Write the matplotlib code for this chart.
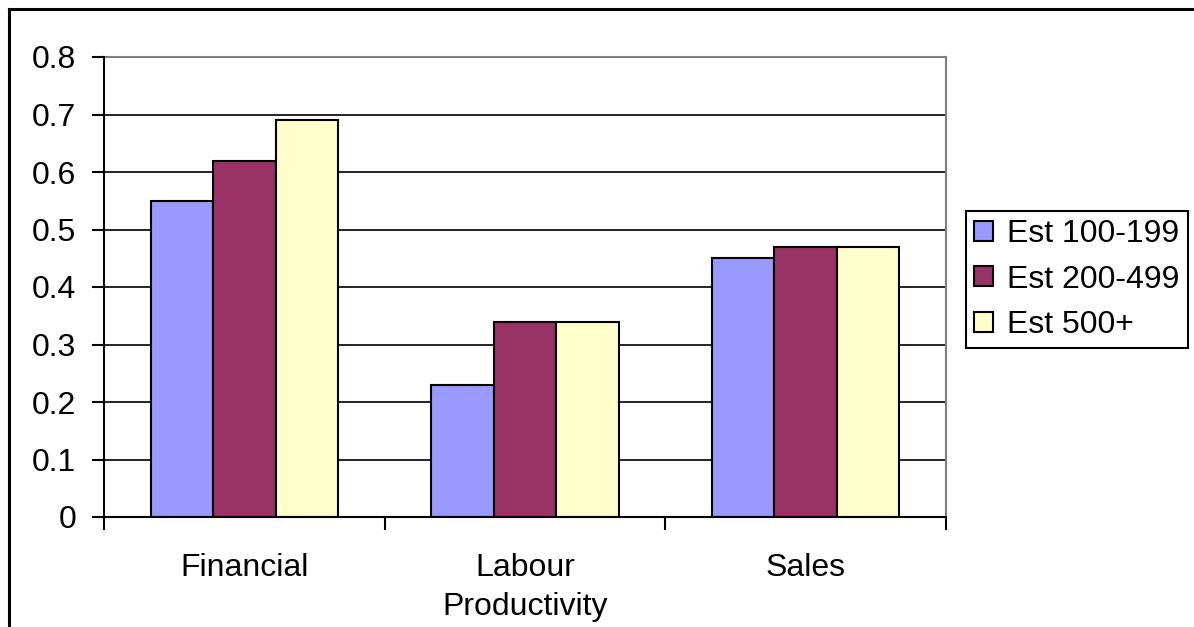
import matplotlib
matplotlib.use("Agg")
import matplotlib.pyplot as plt
from matplotlib.lines import Line2D
import numpy as np

categories = ["Financial", "Labour\nProductivity", "Sales"]
series_names = ["Est 100-199", "Est 200-499", "Est 500+"]
est_100_199 = [0.55, 0.23, 0.45]
est_200_499 = [0.62, 0.34, 0.47]
est_500_plus = [0.69, 0.34, 0.47]
y_ticks = [0, 0.1, 0.2, 0.3, 0.4, 0.5, 0.6, 0.7, 0.8]
colors = ["#9999FF", "#993366", "#FFFFCC"]

plt.rcParams["font.family"] = ["Liberation Sans", "DejaVu Sans"]
FS = 23

W, H = 1194, 627
fig = plt.figure(figsize=(W / 100, H / 100), dpi=100)

# axes placement in pixel coordinates
left, right, top, bottom = 104, 946, 57, 517
ax = fig.add_axes([left / W, 1 - bottom / H, (right - left) / W, (bottom - top) / H])

x = np.arange(len(categories))
bw = 1 / 4.5
for i, (vals, name, c) in enumerate(zip([est_100_199, est_200_499, est_500_plus], series_names, colors)):
    ax.bar(x + (i - 1) * bw, vals, width=bw, color=c, edgecolor="black", linewidth=1.5,
           label=name, zorder=3)

ax.set_xlim(-0.5, len(categories) - 0.5)
ax.set_ylim(0, 0.8)
ax.set_yticks(y_ticks)
ax.set_yticklabels([f"{v:g}" for v in y_ticks], fontsize=FS)
for v in y_ticks[1:-1]:
    ax.axhline(v, color="black", linewidth=1.2, zorder=1)

# category boundary ticks and centered labels
ax.set_xticks(np.arange(-0.5, len(categories), 1.0))
ax.set_xticklabels([])
ax.set_xticks(x, minor=True)
ax.set_xticklabels(categories, minor=True, fontsize=FS, linespacing=1.4)
ax.tick_params(axis="x", which="minor", length=0, pad=26)
ax.tick_params(axis="x", which="major", length=9, width=1.5, direction="out")
ax.tick_params(axis="y", length=9, width=1.5, direction="out", pad=11)

for s in ["top", "right"]:
    ax.spines[s].set_color("#808080")
    ax.spines[s].set_linewidth(1.5)
for s in ["left", "bottom"]:
    ax.spines[s].set_color("black")
    ax.spines[s].set_linewidth(1.5)
    ax.spines[s].set_zorder(4)

leg = ax.legend(loc="upper left", bbox_to_anchor=((966 - left) / (right - left), 1 - (211 - top) / (bottom - top)),
                frameon=True, fancybox=False, fontsize=FS, handlelength=0.58, handleheight=0.58,
                handletextpad=0.45, borderpad=0.26, labelspacing=0.48, borderaxespad=0)
leg.get_frame().set_edgecolor("black")
leg.get_frame().set_linewidth(1.5)
leg.get_frame().set_alpha(1)

# outer chart border (left and top edges)
fig.add_artist(Line2D([8.5 / W, 8.5 / W], [0, 1 - 8.5 / H], transform=fig.transFigure, color="black", linewidth=2.2))
fig.add_artist(Line2D([8.5 / W, 1], [1 - 8.5 / H, 1 - 8.5 / H], transform=fig.transFigure, color="black", linewidth=2.2))

fig.savefig("out.png", dpi=100)
